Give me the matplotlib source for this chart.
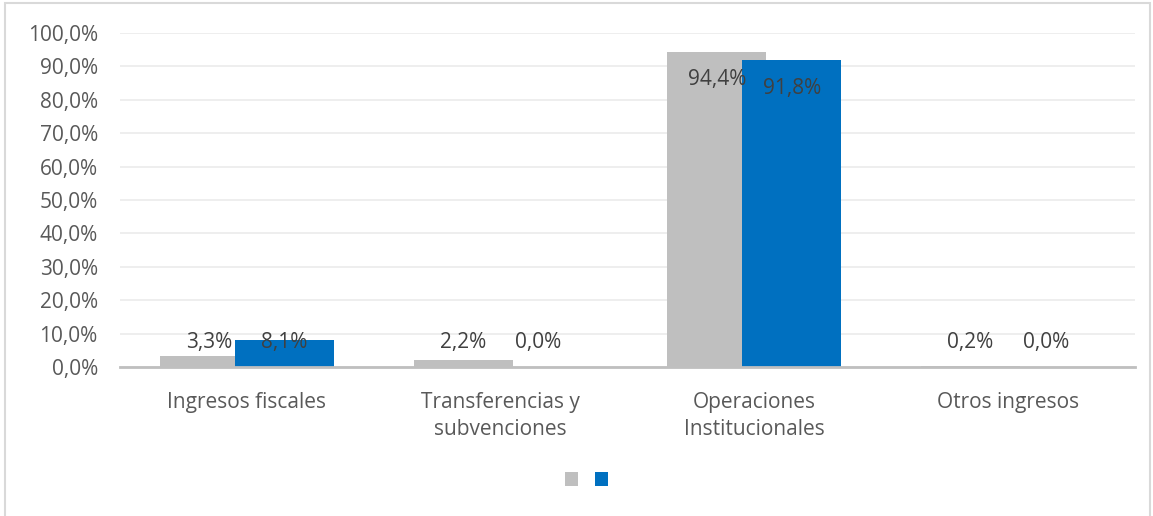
import matplotlib
matplotlib.use("Agg")
import matplotlib.pyplot as plt
import numpy as np
from matplotlib.patches import Rectangle, Patch
from matplotlib.ticker import FuncFormatter, MultipleLocator

categories = ["Ingresos fiscales", "Transferencias y\nsubvenciones",
              "Operaciones\nInstitucionales", "Otros ingresos"]
serie_1 = [3.3, 2.2, 94.4, 0.2]   # gris
serie_2 = [8.1, 0.0, 91.8, 0.0]   # azul

GRAY = "#BFBFBF"
BLUE = "#0070C0"
TEXT = "#595959"
LABEL = "#404040"
FS = 15

plt.rcParams["font.family"] = ["Open Sans", "DejaVu Sans"]

fig = plt.figure(figsize=(11.53, 5.16), dpi=100)
ax = fig.add_axes([0.1041, 0.2888, 0.8803, 0.6472])

x = np.arange(len(categories))
width = 0.39
offset = 0.148

bars1 = ax.bar(x - offset, serie_1, width, color=GRAY, zorder=2)
bars2 = ax.bar(x + offset, serie_2, width, color=BLUE, zorder=3)

# labels: inside end, but short bars get the label lifted to a fixed height
for xs, vals in ((x - offset, serie_1), (x + offset, serie_2)):
    for xi, v in zip(xs, vals):
        y = max(v - 8.4, 7.2)
        ax.text(xi, y, f"{v:.1f}%".replace(".", ","), ha="center", va="center",
                fontsize=FS, color=LABEL, zorder=4)

ax.set_xlim(-0.5, len(categories) - 0.5)
ax.set_ylim(0, 100)
ax.yaxis.set_major_locator(MultipleLocator(10))
ax.yaxis.set_major_formatter(FuncFormatter(lambda v, p: f"{v:.1f}%".replace(".", ",")))
ax.set_xticks(x)
ax.set_xticklabels(categories, fontsize=FS, color=TEXT, linespacing=1.38)
ax.tick_params(axis="y", length=0, pad=16, labelsize=FS, labelcolor=TEXT)
ax.tick_params(axis="x", length=0, pad=18)

ax.grid(axis="y", color="#EBEBEB", linewidth=1.2, zorder=0)
for s in ("top", "right", "left"):
    ax.spines[s].set_visible(False)
ax.spines["bottom"].set_color(GRAY)
ax.spines["bottom"].set_linewidth(2)
ax.spines["bottom"].set_zorder(5)

handles = [Patch(facecolor=GRAY), Patch(facecolor=BLUE)]
fig.legend(handles, ["", ""], loc="center", bbox_to_anchor=(0.5087, 0.069),
           ncol=2, frameon=False, handlelength=0.65, handleheight=0.65,
           handletextpad=0.0, columnspacing=0.8, fontsize=FS)

fig.patches.append(Rectangle((0.004, -0.01), 0.993, 1.004, transform=fig.transFigure,
                             fill=False, edgecolor="#D9D9D9", linewidth=1.5))

fig.savefig("out.png", dpi=100)
